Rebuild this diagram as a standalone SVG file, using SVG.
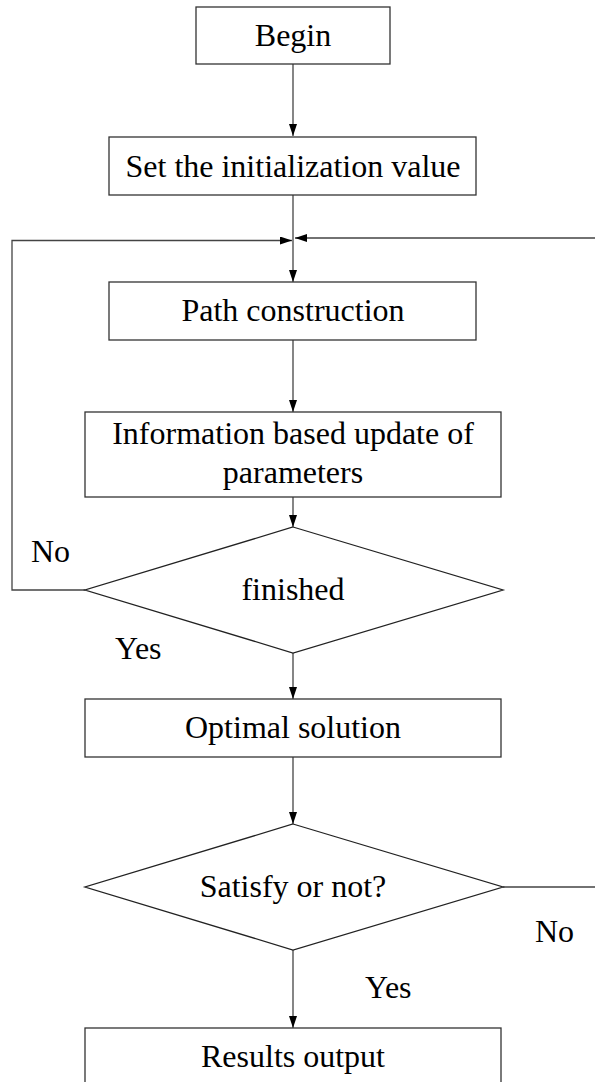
<svg xmlns="http://www.w3.org/2000/svg" width="595" height="1082" viewBox="0 0 595 1082">
<style>
.box{fill:#fff;stroke:#333;stroke-width:1.3}
.dia{fill:#fff;stroke:#222;stroke-width:1.3}
.lbl{font-family:"Liberation Serif","Times New Roman",Times,serif;font-size:32px;fill:#000;text-anchor:middle}
.side{font-family:"Liberation Serif","Times New Roman",Times,serif;font-size:32px;fill:#000}
.conn{fill:none;stroke:#444;stroke-width:1.3}
</style>
<defs>
<marker id="arr" markerUnits="userSpaceOnUse" markerWidth="13" markerHeight="9" refX="12" refY="4" orient="auto">
<path d="M0,0 L12,4 L0,8 z" fill="#000"/>
</marker>
</defs>
<rect width="595" height="1082" fill="#fff"/>
<g id="connectors">
<line class="conn" x1="293" y1="64" x2="293" y2="136" marker-end="url(#arr)"/>
<line class="conn" x1="293" y1="195" x2="293" y2="282" marker-end="url(#arr)"/>
<line class="conn" x1="293" y1="340" x2="293" y2="412" marker-end="url(#arr)"/>
<line class="conn" x1="293" y1="497" x2="293" y2="527" marker-end="url(#arr)"/>
<line class="conn" x1="293" y1="653" x2="293" y2="699" marker-end="url(#arr)"/>
<line class="conn" x1="293" y1="757" x2="293" y2="824" marker-end="url(#arr)"/>
<line class="conn" x1="293" y1="950" x2="293" y2="1028" marker-end="url(#arr)"/>
<path class="conn" d="M85,590 H12 V240.5 H292" marker-end="url(#arr)"/>
<path class="conn" d="M503,887 H600 V238 H295" marker-end="url(#arr)"/>
</g>
<g id="begin">
<rect class="box" x="196" y="7" width="194" height="57"/>
<text class="lbl" x="293" y="46">Begin</text>
</g>
<g id="init">
<rect class="box" x="109" y="137" width="367" height="58"/>
<text class="lbl" x="293" y="177">Set the initialization value</text>
</g>
<g id="path">
<rect class="box" x="109" y="282" width="367" height="58"/>
<text class="lbl" x="293" y="321">Path construction</text>
</g>
<g id="update">
<rect class="box" x="85" y="412" width="416" height="85"/>
<text class="lbl" x="293" y="444">Information based update of</text>
<text class="lbl" x="293" y="483">parameters</text>
</g>
<g id="finished">
<polygon class="dia" points="293,527 503,590 293,653 85,590"/>
<text class="lbl" x="293" y="600">finished</text>
</g>
<g id="optimal">
<rect class="box" x="85" y="699" width="416" height="58"/>
<text class="lbl" x="293" y="738">Optimal solution</text>
</g>
<g id="satisfy">
<polygon class="dia" points="293,824 503,887 293,950 85,887"/>
<text class="lbl" x="293" y="897">Satisfy or not?</text>
</g>
<g id="results">
<rect class="box" x="85" y="1028" width="416" height="70"/>
<text class="lbl" x="293" y="1067">Results output</text>
</g>
<g id="labels">
<text class="side" x="31" y="562">No</text>
<text class="side" x="115" y="659">Yes</text>
<text class="side" x="535" y="942">No</text>
<text class="side" x="365" y="998">Yes</text>
</g>
</svg>
